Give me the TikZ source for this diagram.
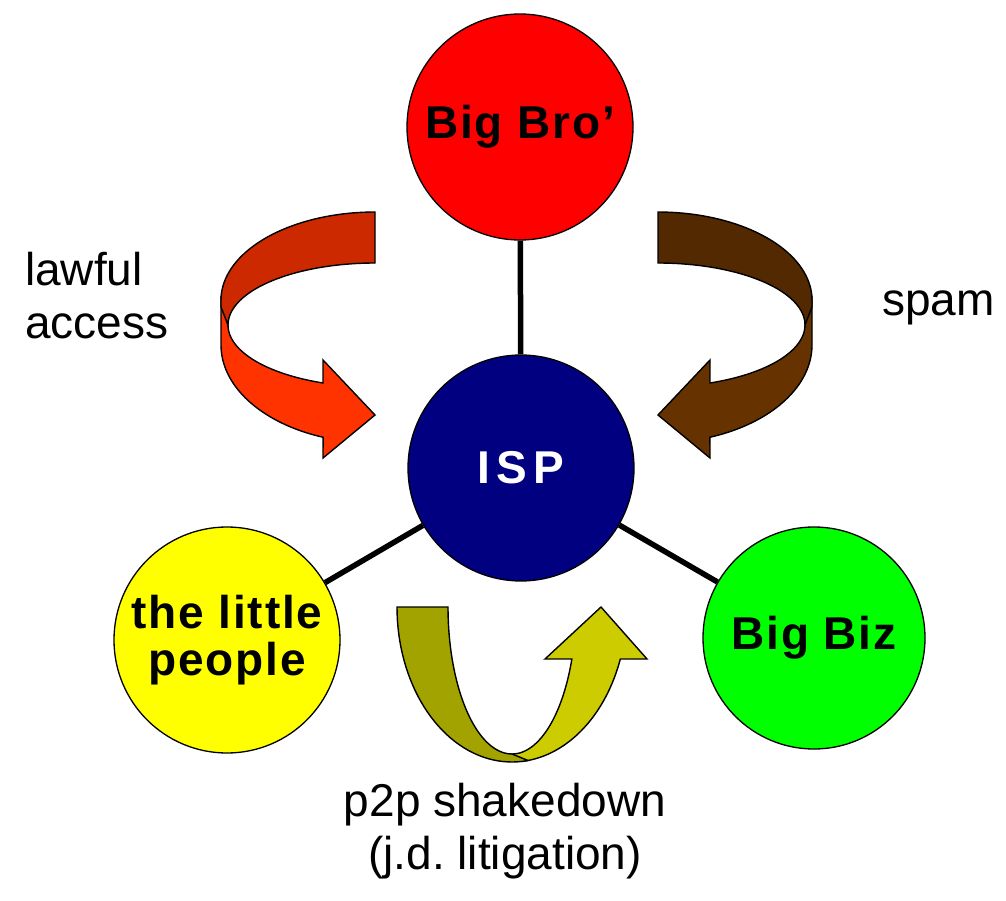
\documentclass[tikz,border=0pt]{standalone}
\usepackage{fontspec}
\setmainfont{Liberation Sans}
\frenchspacing
\newfontfamily\partyfont[LetterSpace=4]{Liberation Sans Bold}
\newfontfamily\ispfont[LetterSpace=14]{Liberation Sans Bold}
\definecolor{broRed}{RGB}{255,0,0}
\definecolor{ispBlue}{RGB}{0,0,128}
\definecolor{peopleYellow}{RGB}{255,255,0}
\definecolor{bizGreen}{RGB}{0,255,0}
\definecolor{lawDark}{RGB}{204,41,0}
\definecolor{lawLight}{RGB}{255,51,0}
\definecolor{spamDark}{RGB}{82,41,0}
\definecolor{spamLight}{RGB}{102,51,0}
\definecolor{p2pDark}{RGB}{163,163,0}
\definecolor{p2pLight}{RGB}{204,204,0}
\tikzset{
  party/.style={circle, draw=black, line width=1.3pt, minimum size=226pt, inner sep=0pt,
    font=\fontsize{46}{47}\selectfont\partyfont, align=center},
  tie/.style={line width=5.5pt, black},
  ribbon/.style={draw=black, line width=1.4pt, line join=miter},
  caption/.style={font=\fontsize{46}{53}\selectfont, inner sep=0pt}
}
% twisted ribbon arrow swinging round from the top and pointing right
\newcommand{\swingarrow}[2]{%
  \filldraw[ribbon, fill=#2] (221,300)
    -- plot[domain=180:109.7, samples=40, variable=\t] ({375+154*cos(\t)},{345+98*sin(\t)})
    -- (323,458) -- (375,415) -- (323,360)
    -- plot[domain=110.7:180, samples=40, variable=\t] ({375+147*cos(\t)},{325+62*sin(\t)})
    -- cycle;
  \filldraw[ribbon, fill=#1] (375,212)
    -- plot[domain=270:180, samples=40, variable=\t] ({375+154*cos(\t)},{300+88*sin(\t)})
    -- (221,307)
    -- plot[domain=180:270, samples=40, variable=\t] ({375+147*cos(\t)},{325+62*sin(\t)})
    -- cycle;
}
\begin{document}
\begin{tikzpicture}[x=1pt, y=-1pt]
\useasboundingbox (0,0) rectangle (1006,901);

% the four parties
\node[party, fill=broRed] (bro) at (520,127) {Big Bro’};
\node[party, fill=ispBlue, text=white, font=\fontsize{46}{46}\selectfont\ispfont] (isp) at (521,468) {ISP};
\node[party, fill=peopleYellow] (people) at (227,640) {the little\\people};
\node[party, fill=bizGreen, minimum size=222pt] (biz) at (814,638) {Big Biz};

% ties to the ISP
\draw[tie] (isp) -- (bro);
\draw[tie] (isp) -- (people);
\draw[tie] (isp) -- (biz);

% lawful access ribbon
\swingarrow{lawDark}{lawLight}
% spam ribbon (mirror image)
\begin{scope}[shift={(1033,0)}, xscale=-1]
  \swingarrow{spamDark}{spamLight}
\end{scope}

% p2p shakedown ribbon
\filldraw[ribbon, fill=p2pLight] (512,754)
  -- plot[domain=90:20.7, samples=40, variable=\t] ({512+64*cos(\t)},{607+147*sin(\t)})
  -- (545,659) -- (601,607) -- (647,659)
  -- plot[domain=19.6:85, samples=40, variable=\t] ({512+115*cos(\t)},{607+155*sin(\t)})
  -- cycle;
\filldraw[ribbon, fill=p2pDark] (448,607)
  -- plot[domain=180:82, samples=40, variable=\t] ({512+115*cos(\t)},{607+155*sin(\t)})
  -- (512,754)
  -- plot[domain=90:180, samples=40, variable=\t] ({512+64*cos(\t)},{607+147*sin(\t)})
  -- cycle;

% captions (base anchor sits on the last line)
\node[caption, anchor=base west, align=left] (lawful) at (25,338) {lawful\\access};
\node[caption, anchor=base west] (spam) at (882,315) {spam};
\node[caption, anchor=base, align=center] (p2p) at (505,869) {p2p shakedown\\(j.d. litigation)};
\end{tikzpicture}
\end{document}
